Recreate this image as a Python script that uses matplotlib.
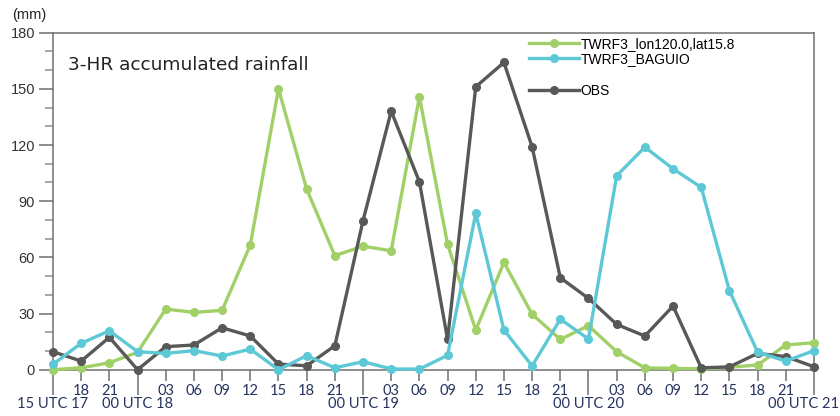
import numpy as np
import matplotlib
matplotlib.use("Agg")
import matplotlib.pyplot as plt
import matplotlib.transforms as mtransforms
from matplotlib.lines import Line2D

# 3-hourly steps from 15 UTC 17 to 00 UTC 21
hours = ["15", "18", "21", "00", "03", "06", "09", "12", "15", "18", "21",
         "00", "03", "06", "09", "12", "15", "18", "21",
         "00", "03", "06", "09", "12", "15", "18", "21", "00"]
days = {0: "15 UTC 17", 3: "00 UTC 18", 11: "00 UTC 19", 19: "00 UTC 20", 27: "00 UTC 21"}

lon_lat = [0, 1, 3.7, 9.3, 32.4, 30.6, 31.7, 66.6, 150, 96.5, 60.9, 66, 63.5, 145.8,
           67, 21.2, 57.3, 29.6, 16.2, 23.5, 9.6, 1, 0.7, 0.5, 1.3, 2.5, 13.2, 14.4]
baguio = [2.9, 14.1, 20.8, 9.6, 8.7, 10.2, 7.3, 11, 0, 7.5, 1, 4.3, 0.4, 0.3,
          7.7, 83.5, 21.2, 2, 27, 16.4, 103.6, 118.9, 107.3, 97.4, 42.2, 9.4, 4.6, 10.2]
obs = [9.6, 4.6, 17.3, 0, 12.3, 13.2, 22.4, 18, 3, 2.1, 12.8, 79.6, 138.1, 100.4,
       16.2, 151.1, 164.1, 119, 49.1, 38.1, 24.2, 18, 34, 1, 1.5, 8.7, 7, 1.6]

green = "#a2d068"
cyan = "#5ec9d6"
gray = "#585858"
navy = "#26325f"

x = np.arange(len(hours))

fig = plt.figure(figsize=(8.4, 4.16), dpi=100)
ax = fig.add_axes([0.0631, 0.1113, 0.9059, 0.8101])

kw = dict(lw=2.4, marker="o", ms=5.5, clip_on=False)
ax.plot(x, lon_lat, color=green, zorder=3, **kw)
ax.plot(x, obs, color=gray, zorder=4, **kw)
ax.plot(x, baguio, color=cyan, zorder=5, **kw)

ax.set_xlim(0, 27)
ax.set_ylim(0, 180)

for s in ax.spines.values():
    s.set_color("#707070")
    s.set_linewidth(1.1)

# y axis
ax.set_yticks(np.arange(0, 181, 30))
ax.set_yticks(np.arange(0, 181, 10), minor=True)
ax.set_yticklabels([str(v) for v in range(0, 181, 30)], fontfamily="Liberation Sans")
ax.tick_params(axis="y", which="major", direction="out", length=10, width=1.1,
               color="#707070", labelsize=10.5, labelcolor="#333333", pad=3)
ax.tick_params(axis="y", which="minor", direction="out", length=6, width=1.1,
               color="#909090")

# x axis: hours on first line, day marks on second line
major = sorted(days.keys())
minor = [i for i in x if i not in days]
ax.set_xticks(major)
ax.set_xticklabels([])
ax.set_xticks(minor, minor=True)
ax.set_xticklabels([hours[i] for i in minor], minor=True, fontfamily="Lato",
                   fontsize=10.5, color=navy)
ax.tick_params(axis="x", which="major", direction="out", length=18, width=1.1,
               color="#707070")
ax.tick_params(axis="x", which="minor", direction="out", length=8, width=1.1,
               color="#707070", pad=2)

trans = mtransforms.blended_transform_factory(ax.transData, ax.transAxes)
for i in major:
    if i == 27:
        fig.text(0.999, 0.012, days[i], ha="right", va="bottom", fontfamily="Lato",
                 fontsize=10.5, color=navy)
    else:
        ax.text(i, -0.08, days[i], transform=trans, ha="center", va="top",
                fontfamily="Lato", fontsize=10.5, color=navy)

fig.text(0.015, 0.955, "(mm)", fontsize=10.5, color="#222222",
         fontfamily="Liberation Sans")
ax.text(0.02, 0.93, "3-HR accumulated rainfall", transform=ax.transAxes,
        fontsize=13.3, color="#222222", va="top")

h1 = [Line2D([], [], color=green, lw=2.4, marker="o", ms=5.5),
      Line2D([], [], color=cyan, lw=2.4, marker="o", ms=5.5)]
leg1 = ax.legend(h1, ["TWRF3_lon120.0,lat15.8", "TWRF3_BAGUIO"], loc="upper left",
                 bbox_to_anchor=(0.613, 1.017), frameon=False,
                 handlelength=3.6, handletextpad=0.1, labelspacing=0.1,
                 borderpad=0.2, prop={"family": "Liberation Sans", "size": 10})
ax.add_artist(leg1)
h2 = [Line2D([], [], color=gray, lw=2.4, marker="o", ms=5.5)]
ax.legend(h2, ["OBS"], loc="upper left", bbox_to_anchor=(0.613, 0.877), frameon=False,
          handlelength=3.6, handletextpad=0.1, borderpad=0.2,
          prop={"family": "Liberation Sans", "size": 10})

fig.savefig("out.png", dpi=100)
